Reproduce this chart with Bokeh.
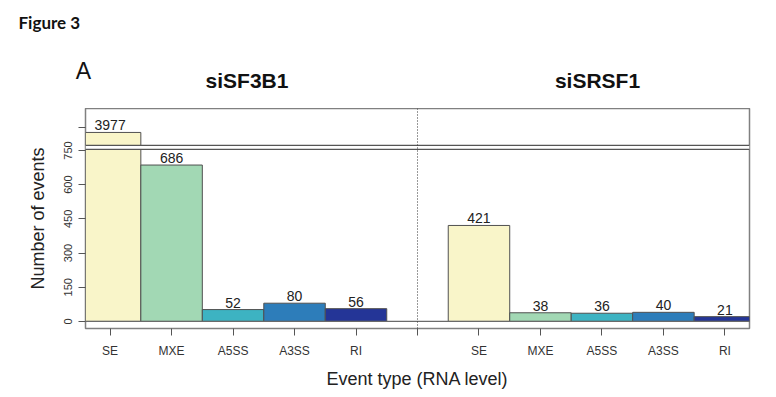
from bokeh.plotting import figure
from bokeh.layouts import column, row
from bokeh.models import FixedTicker, Span, BoxAnnotation, ColumnDataSource
from bokeh.core.properties import value
from bokeh.embed import file_html
from bokeh.resources import INLINE

# ---------------- data ----------------
event_types = ["SE", "MXE", "A5SS", "A3SS", "RI"]
panels = ["siSF3B1", "siSRSF1"]
siSF3B1_counts = [3977, 686, 52, 80, 56]
siSRSF1_counts = [421, 38, 36, 40, 21]
bar_colors = ["#F9F5C9", "#A2D8B4", "#3DB3C2", "#2D7DBA", "#243597"]
y_tick_values = [0, 150, 300, 450, 600, 750]
upper_tick_values = [4000]

# ---------------- broken y axis ----------------
LOW_TOP = 755      # top of lower segment (real value)
UP_START = 3920    # start of upper segment (real value)
GAP = 17           # height of the gap in plot units


def to_plot(v):
    return v if v <= LOW_TOP else v - UP_START + LOW_TOP + GAP


FONT = "Liberation Sans"
W = 776
HEAD_H = 108

# ---------------- header (figure label, panel titles) ----------------
head = figure(width=W, height=HEAD_H, x_range=(0, W), y_range=(HEAD_H, 0),
              output_backend="svg", toolbar_location=None,
              min_border_left=0, min_border_right=0, min_border_top=0, min_border_bottom=0)
head.axis.visible = False
head.grid.visible = False
head.outline_line_color = None
head.background_fill_color = "white"
head.border_fill_color = "white"

head.text(x=[246.5, 597], y=[80, 80], text=panels, text_align="center", text_baseline="middle",
          text_font=value(FONT), text_font_style="bold", text_font_size="21px",
          text_color="#111111")
head.text(x=[83], y=[70], text=["A"], text_align="center", text_baseline="middle",
          text_font=value(FONT), text_font_size="23px", text_color="#111111")
head.text(x=[18], y=[22], text=["Figure 3"], text_align="left", text_baseline="middle",
          text_font=value("Lato"), text_font_style="bold", text_font_size="17px",
          text_color="#111111")

# ---------------- main chart ----------------
n = len(event_types)
xs, tops, labels, cols = [], [], [], []
for pi, counts in enumerate([siSF3B1_counts, siSRSF1_counts]):
    for i, c in enumerate(counts):
        xs.append(pi * (n + 1) + i)
        tops.append(to_plot(c))
        labels.append(str(c))
        cols.append(bar_colors[i])
sep_x = n

src = ColumnDataSource(dict(x=xs, top=tops, label=labels, color=cols))

p = figure(frame_width=664, frame_height=220,
           x_range=(-0.4, 2 * n + 0.4), y_range=(-31, 934),
           output_backend="svg", toolbar_location=None,
           min_border_left=85, min_border_right=27,
           min_border_top=0, min_border_bottom=69)
p.xgrid.visible = False
p.ygrid.visible = False
p.outline_line_color = "#808080"
p.outline_line_width = 1.5
p.background_fill_color = "white"
p.border_fill_color = "white"

p.vbar(x="x", top="top", bottom=0, width=1, fill_color="color",
       line_color="#505050", line_width=1, source=src)

p.text(x="x", y="top", text="label", text_align="center", text_baseline="bottom",
       y_offset=-2, text_font=value(FONT), text_font_size="14px", text_color="#222222",
       source=src)

p.add_layout(BoxAnnotation(bottom=LOW_TOP, top=LOW_TOP + GAP, fill_color="white",
                           fill_alpha=1, line_color=None))
for yy in (LOW_TOP, LOW_TOP + GAP):
    p.add_layout(Span(location=yy, dimension="width", line_color="#555555", line_width=1.3))
p.add_layout(Span(location=0, dimension="width", line_color="#6a6a6a", line_width=1.2))
p.add_layout(Span(location=sep_x, dimension="height", line_color="#333333",
                  line_width=1, line_dash="1 2"))

yt = [to_plot(t) for t in y_tick_values + upper_tick_values]
p.yaxis.ticker = FixedTicker(ticks=yt)
p.yaxis.major_label_overrides = {to_plot(t): "" for t in upper_tick_values}
p.yaxis.major_label_orientation = "vertical"
p.yaxis.axis_line_color = None
p.yaxis.major_tick_out = 7
p.yaxis.major_tick_in = 0
p.yaxis.minor_tick_line_color = None
p.yaxis.major_tick_line_color = "#555555"
p.yaxis.major_label_standoff = 6
p.yaxis.major_label_text_font = FONT
p.yaxis.major_label_text_font_size = "11px"
p.yaxis.major_label_text_color = "#333333"
p.yaxis.axis_label = "Number of events"
p.yaxis.axis_label_text_font = FONT
p.yaxis.axis_label_text_font_size = "18px"
p.yaxis.axis_label_text_font_style = "normal"
p.yaxis.axis_label_text_color = "#222222"
p.yaxis.axis_label_standoff = 14

xticks = list(range(2 * n + 1))
p.xaxis.ticker = FixedTicker(ticks=xticks)
over = {sep_x: ""}
for x in xs:
    over[x] = event_types[x % (n + 1)]
p.xaxis.major_label_overrides = over
p.xaxis.axis_line_color = None
p.xaxis.major_tick_out = 7
p.xaxis.major_tick_in = 0
p.xaxis.minor_tick_line_color = None
p.xaxis.major_tick_line_color = "#555555"
p.xaxis.major_label_standoff = 8
p.xaxis.major_label_text_font = FONT
p.xaxis.major_label_text_font_size = "12px"
p.xaxis.major_label_text_color = "#333333"
p.xaxis.axis_label = "Event type (RNA level)"
p.xaxis.axis_label_text_font = FONT
p.xaxis.axis_label_text_font_size = "18px"
p.xaxis.axis_label_text_font_style = "normal"
p.xaxis.axis_label_text_color = "#222222"
p.xaxis.axis_label_standoff = 8

layout = column(row(head), row(p), spacing=0)
open("out.html", "w").write(file_html(layout, INLINE))
